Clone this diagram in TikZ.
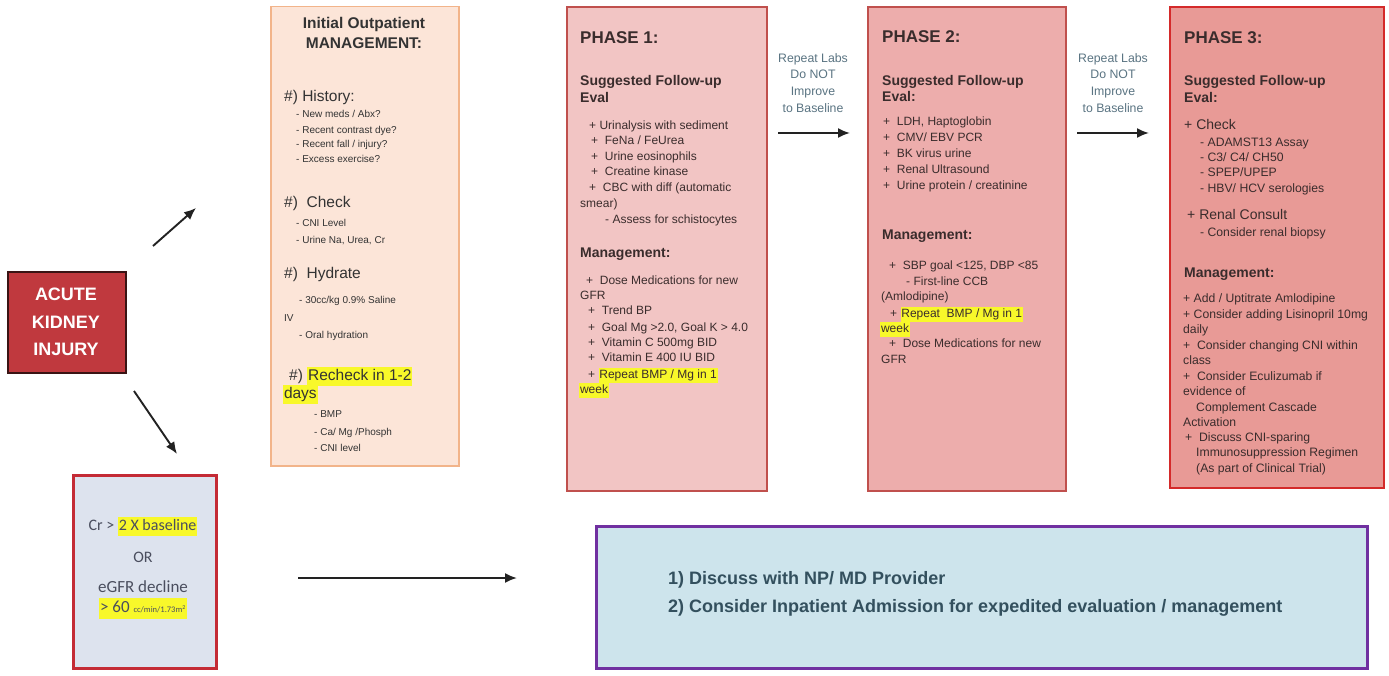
\documentclass[tikz,border=0pt]{standalone}
\usepackage{fontspec}
\setmainfont{Liberation Sans}
\newfontfamily\calib{Carlito}
\usetikzlibrary{arrows.meta}
\definecolor{akifill}{HTML}{C0393E}
\definecolor{akiedge}{HTML}{3A1414}
\definecolor{opfill}{HTML}{FCE5D8}
\definecolor{opedge}{HTML}{F2B48A}
\definecolor{p1fill}{HTML}{F2C5C4}
\definecolor{p2fill}{HTML}{EDADAC}
\definecolor{p3fill}{HTML}{E89A96}
\definecolor{pedge}{HTML}{C0504D}
\definecolor{p3edge}{HTML}{D42A2A}
\definecolor{blfill}{HTML}{DDE3EE}
\definecolor{bledge}{HTML}{C42B35}
\definecolor{brfill}{HTML}{CDE4EC}
\definecolor{bredge}{HTML}{7030A0}
\definecolor{hly}{HTML}{F8F82A}
\definecolor{txtd}{HTML}{3A2C2C}
\definecolor{optxt}{HTML}{333333}
\definecolor{lbl}{HTML}{5A7482}
\definecolor{brtxt}{HTML}{33505E}
\definecolor{bltxt}{HTML}{4A4E5E}
\definecolor{arrc}{HTML}{222222}
\newcommand\hlt[1]{\begingroup\setlength{\fboxsep}{0.8pt}\colorbox{hly}{\strut #1}\endgroup}
\newcommand\mytxt[5]{\node[#1] (#2) at (#3,#4) {#5};}
\begin{document}
\begin{tikzpicture}[x=1pt,y=-1pt,
  box/.style={draw,inner sep=0,anchor=north west},
  txtbase/.style={inner sep=0,anchor=base west,text=txtd},
  opitem/.style={txtbase,text=optxt,font=\fontsize{10pt}{11.5pt}\selectfont},
  ophead/.style={txtbase,text=optxt,font=\fontsize{15.5pt}{18pt}\selectfont},
  phbody/.style={txtbase,font=\fontsize{12pt}{13.5pt}\selectfont},
  phbodyb/.style={txtbase,font=\fontsize{12.2pt}{14pt}\selectfont},
  phhead/.style={txtbase,font=\bfseries\fontsize{14pt}{16pt}\selectfont},
  phtitle/.style={txtbase,font=\bfseries\fontsize{17pt}{19pt}\selectfont},
  arr/.style={draw=arrc,line width=1.9pt,-{Latex[length=12pt,width=10pt]}},
  lab/.style={inner sep=0,align=center,text=lbl,font=\fontsize{12.3pt}{16.8pt}\selectfont}
]
\useasboundingbox (0,0) rectangle (1389,676);
\fill[white] (0,0) rectangle (1389,676);

% ---------- boxes ----------
\node[box,fill=akifill,draw=akiedge,line width=2pt,minimum width=118pt,minimum height=101pt] (aki) at (7,271) {};
\node[box,fill=opfill,draw=opedge,line width=1.5pt,minimum width=188pt,minimum height=459pt] (op) at (270,6) {};
\node[box,fill=p1fill,draw=pedge,line width=1.8pt,minimum width=200pt,minimum height=484pt] (p1) at (566,6) {};
\node[box,fill=p2fill,draw=pedge,line width=1.8pt,minimum width=198pt,minimum height=484pt] (p2) at (867,6) {};
\node[box,fill=p3fill,draw=p3edge,line width=1.8pt,minimum width=214pt,minimum height=481pt] (p3) at (1169,6) {};
\node[box,fill=blfill,draw=bledge,line width=2.5pt,minimum width=143pt,minimum height=193pt] (bl) at (72,474) {};
\node[box,fill=brfill,draw=bredge,line width=3pt,minimum width=771pt,minimum height=142pt] (br) at (595,525) {};

% ---------- AKI ----------
\node[inner sep=0,anchor=base,text=white,font=\bfseries\fontsize{18pt}{20pt}\selectfont] (akit1) at (66,301) {ACUTE};
\node[inner sep=0,anchor=base,text=white,font=\bfseries\fontsize{18pt}{20pt}\selectfont] (akit2) at (66,328) {KIDNEY};
\node[inner sep=0,anchor=base,text=white,font=\bfseries\fontsize{18pt}{20pt}\selectfont] (akit3) at (66,355) {INJURY};

% ---------- Outpatient ----------
\node[inner sep=0,anchor=base,text=optxt,font=\bfseries\fontsize{15.5pt}{17pt}\selectfont] (opt1) at (364,29) {Initial Outpatient};
\node[inner sep=0,anchor=base,text=optxt,font=\bfseries\fontsize{15.5pt}{17pt}\selectfont] (opt2) at (364,49) {MANAGEMENT:};
\mytxt{ophead}{oh1}{284}{102}{\#) History:}
\mytxt{opitem}{oi1}{296}{118}{- New meds / Abx?}
\mytxt{opitem}{oi2}{296}{134}{- Recent contrast dye?}
\mytxt{opitem}{oi3}{296}{148}{- Recent fall / injury?}
\mytxt{opitem}{oi4}{296}{163}{- Excess exercise?}
\mytxt{ophead}{oh2}{284}{208}{\#)\ \ Check}
\mytxt{opitem}{oi5}{296}{227}{- CNI Level}
\mytxt{opitem}{oi6}{296}{244}{- Urine Na, Urea, Cr}
\mytxt{ophead}{oh3}{284}{279}{\#)\ \ Hydrate}
\mytxt{opitem}{oi7}{299}{304}{- 30cc/kg 0.9\% Saline}
\mytxt{opitem}{oi8}{284}{321}{IV}
\mytxt{opitem}{oi9}{299}{338}{- Oral hydration}
\mytxt{ophead}{oh4}{289}{380}{\#) \hlt{Recheck in 1-2}}
\mytxt{ophead}{oh5}{283}{398}{\hlt{days}}
\mytxt{opitem}{oi10}{314}{417}{- BMP}
\mytxt{opitem}{oi11}{314}{435}{- Ca/ Mg /Phosph}
\mytxt{opitem}{oi12}{314}{451}{- CNI level}

% ---------- Phase 1 ----------
\mytxt{phtitle}{p1t}{580}{44}{PHASE 1:}
\mytxt{phhead}{p1h1}{580}{86}{Suggested Follow-up}
\mytxt{phhead}{p1h2}{580}{103}{Eval}
\mytxt{phbody}{p1a}{589}{130}{+ Urinalysis with sediment}
\mytxt{phbody}{p1b}{591}{145}{+\ \ FeNa / FeUrea}
\mytxt{phbody}{p1c}{591}{161}{+\ \ Urine eosinophils}
\mytxt{phbody}{p1d}{591}{176}{+\ \ Creatine kinase}
\mytxt{phbody}{p1e}{589}{192}{+\ \ CBC with diff (automatic}
\mytxt{phbody}{p1f}{580}{208}{smear)}
\mytxt{phbody}{p1g}{605}{224}{- Assess for schistocytes}
\mytxt{phhead}{p1h3}{580}{258}{Management:}
\mytxt{phbody}{p1i}{586}{284}{+\ \ Dose Medications for new}
\mytxt{phbody}{p1j}{580}{300}{GFR}
\mytxt{phbody}{p1k}{588}{315}{+\ \ Trend BP}
\mytxt{phbody}{p1l}{588}{331}{+\ \ Goal Mg >2.0, Goal K > 4.0}
\mytxt{phbody}{p1m}{588}{346}{+\ \ Vitamin C 500mg BID}
\mytxt{phbody}{p1n}{588}{361}{+\ \ Vitamin E 400 IU BID}
\mytxt{phbody}{p1o}{588}{378}{+\ \hlt{Repeat BMP / Mg in 1}}
\mytxt{phbody}{p1p}{579}{393}{\hlt{week}}

% ---------- Phase 2 ----------
\mytxt{phtitle}{p2t}{882}{43}{PHASE 2:}
\mytxt{phhead}{p2h1}{882}{86}{Suggested Follow-up}
\mytxt{phhead}{p2h2}{882}{102}{Eval:}
\mytxt{phbody}{p2a}{883}{126}{+\ \ LDH, Haptoglobin}
\mytxt{phbody}{p2b}{883}{142}{+\ \ CMV/ EBV PCR}
\mytxt{phbody}{p2c}{883}{158}{+\ \ BK virus urine}
\mytxt{phbody}{p2d}{883}{174}{+\ \ Renal Ultrasound}
\mytxt{phbody}{p2e}{883}{190}{+\ \ Urine protein / creatinine}
\mytxt{phhead}{p2h3}{882}{240}{Management:}
\mytxt{phbody}{p2f}{889}{270}{+\ \ SBP goal <125, DBP <85}
\mytxt{phbody}{p2g}{906}{286}{- First-line CCB}
\mytxt{phbody}{p2h}{881}{301}{(Amlodipine)}
\mytxt{phbody}{p2i}{890}{317}{+\ \hlt{Repeat\ \ BMP / Mg in 1}}
\mytxt{phbody}{p2j}{880}{332}{\hlt{week}}
\mytxt{phbody}{p2k}{889}{347}{+\ \ Dose Medications for new}
\mytxt{phbody}{p2l}{881}{363}{GFR}

% ---------- Phase 3 ----------
\mytxt{phtitle}{p3t}{1184}{44}{PHASE 3:}
\mytxt{phhead}{p3h1}{1184}{86}{Suggested Follow-up}
\mytxt{phhead}{p3h2}{1184}{103}{Eval:}
\node[txtbase,font=\fontsize{14pt}{16pt}\selectfont] (p3a) at (1184,130) {+ Check};
\mytxt{phbodyb}{p3b}{1200}{147}{- ADAMST13 Assay}
\mytxt{phbodyb}{p3c}{1200}{162}{- C3/ C4/ CH50}
\mytxt{phbodyb}{p3d}{1200}{177}{- SPEP/UPEP}
\mytxt{phbodyb}{p3e}{1200}{193}{- HBV/ HCV serologies}
\node[txtbase,font=\fontsize{14pt}{16pt}\selectfont] (p3f) at (1187,220) {+ Renal Consult};
\mytxt{phbodyb}{p3g}{1200}{237}{- Consider renal biopsy}
\mytxt{phhead}{p3h3}{1184}{277}{Management:}
\mytxt{phbodyb}{p3i}{1183}{302}{+ Add / Uptitrate Amlodipine}
\mytxt{phbodyb}{p3j}{1183}{318}{+ Consider adding Lisinopril 10mg}
\mytxt{phbodyb}{p3k}{1183}{333}{daily}
\mytxt{phbodyb}{p3l}{1183}{349}{+\ \ Consider changing CNI within}
\mytxt{phbodyb}{p3m}{1183}{364}{class}
\mytxt{phbodyb}{p3n}{1183}{380}{+\ \ Consider Eculizumab if}
\mytxt{phbodyb}{p3o}{1183}{395}{evidence of}
\mytxt{phbodyb}{p3p}{1196}{411}{Complement Cascade}
\mytxt{phbodyb}{p3q}{1183}{426}{Activation}
\mytxt{phbodyb}{p3r}{1185}{441}{+\ \ Discuss CNI-sparing}
\mytxt{phbodyb}{p3s}{1196}{456}{Immunosuppression Regimen}
\mytxt{phbodyb}{p3u}{1196}{472}{(As part of Clinical Trial)}

% ---------- arrow labels ----------
\node[lab] (lab1) at (813,83) {Repeat Labs\\Do NOT\\Improve\\to Baseline};
\node[lab] (lab2) at (1113,83) {Repeat Labs\\Do NOT\\Improve\\to Baseline};

% ---------- bottom left ----------
\node[inner sep=0,anchor=base,text=bltxt,font=\calib\fontsize{16pt}{18pt}\selectfont] (bl1) at (143,530) {Cr > \hlt{2 X baseline}};
\node[inner sep=0,anchor=base,text=bltxt,font=\calib\fontsize{16pt}{18pt}\selectfont] (bl2) at (143,562) {OR};
\node[inner sep=0,anchor=base,text=bltxt,font=\calib\fontsize{17pt}{19pt}\selectfont] (bl3) at (143,592) {eGFR decline};
\node[inner sep=0,anchor=base,text=bltxt,font=\calib\fontsize{17pt}{19pt}\selectfont] (bl4) at (143,612) {\hlt{> 60 {\fontsize{8.5pt}{10pt}\selectfont cc/min/1.73m\textsuperscript{2}}}};

% ---------- bottom right ----------
\node[txtbase,text=brtxt,font=\bfseries\fontsize{18pt}{20pt}\selectfont] (br1) at (668,584) {1) Discuss with NP/ MD Provider};
\node[txtbase,text=brtxt,font=\bfseries\fontsize{18pt}{20pt}\selectfont] (br2) at (668,612) {2) Consider Inpatient Admission for expedited evaluation / management};

% ---------- arrows ----------
\coordinate (a1s) at (153,246); \coordinate (a1e) at (196,208);
\coordinate (a2s) at (134,391); \coordinate (a2e) at (177,454);
\coordinate (a3s) at (298,578); \coordinate (a3e) at (517,578);
\coordinate (a4s) at (778,133); \coordinate (a4e) at (850,133);
\coordinate (a5s) at (1077,133); \coordinate (a5e) at (1149,133);
\draw[arr] (a1s) -- (a1e);
\draw[arr] (a2s) -- (a2e);
\draw[arr] (a3s) -- (a3e);
\draw[arr] (a4s) -- (a4e);
\draw[arr] (a5s) -- (a5e);
\end{tikzpicture}
\end{document}
